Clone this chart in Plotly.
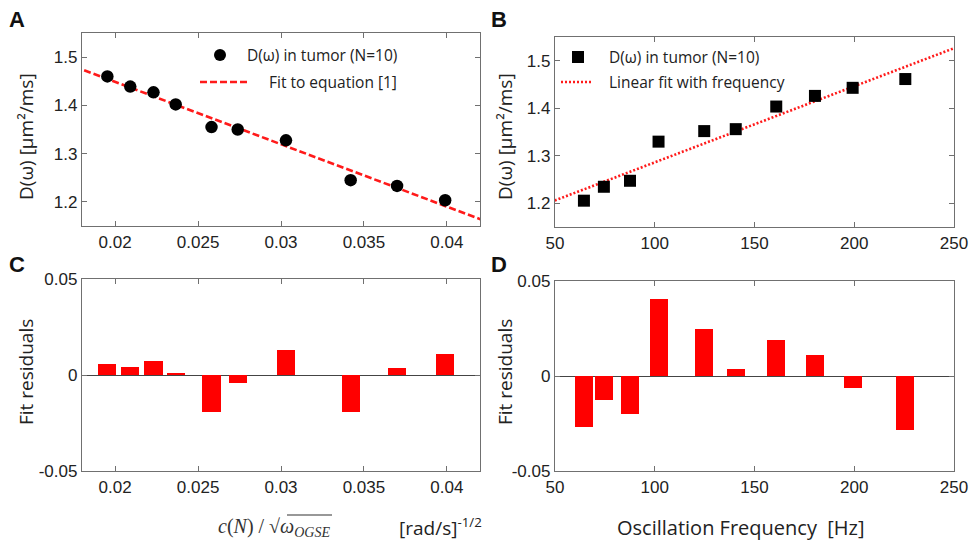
import plotly.graph_objects as go

# ---------------- data ----------------
# Panel A: D(omega) vs c(N)/sqrt(omega_OGSE)
a_x = [0.01953, 0.02091, 0.02231, 0.02365, 0.02581, 0.02739, 0.0303, 0.0342, 0.0370, 0.0399]
a_d = [1.460, 1.439, 1.427, 1.402, 1.355, 1.350, 1.3275, 1.245, 1.233, 1.2033]
fitA_intercept = 1.707
fitA_slope = -12.92
fitA_xrange = [0.017, 0.043]

# Panel B: D(omega) vs oscillation frequency
b_f = [64.5, 74.5, 87.6, 101.9, 124.8, 140.6, 160.9, 180.3, 199.2, 225.6]
b_d = [1.2054, 1.2347, 1.2473, 1.3297, 1.3519, 1.356, 1.4036, 1.426, 1.443, 1.4615]
fitB_intercept = 1.1259
fitB_slope = 0.001602
fitB_xrange = [48, 252]

# Panel C: residuals of fit to equation [1]
c_res = [0.0056, 0.0043, 0.0071, 0.001, -0.0194, -0.004, 0.0128, -0.0194, 0.0035, 0.0108]
# Panel D: residuals of linear fit with frequency
d_res = [-0.0266, -0.0126, -0.020, 0.0404, 0.0246, 0.0035, 0.0189, 0.0109, -0.0061, -0.0286]

xA_ticks = [0.02, 0.025, 0.03, 0.035, 0.04]
xA_labels = ["0.02", "0.025", "0.03", "0.035", "0.04"]
yD_ticks = [1.2, 1.3, 1.4, 1.5]
yD_labels = ["1.2", "1.3", "1.4", "1.5"]
xB_ticks = [50, 100, 150, 200, 250]
yR_ticks = [-0.05, 0, 0.05]
yR_labels = ["-0.05", "0", "0.05"]

# ---------------- layout helpers ----------------
W, H = 972, 546
def px(x):
    return x / W
def py(y):
    return 1 - y / H

TICKFONT = dict(family="Liberation Sans, Arial", size=17, color="#222")
TXTFONT = "Open Sans, Noto Sans, sans-serif"
AXCOL = "#707070"

def fitline(intercept, slope, xr):
    return [intercept + slope * x for x in xr]

fig = go.Figure()

# A
fig.add_trace(go.Scatter(x=fitA_xrange, y=fitline(fitA_intercept, fitA_slope, fitA_xrange),
                         mode="lines", line=dict(color="#ff1a1a", width=2.6, dash="7px,3px"),
                         xaxis="x", yaxis="y", showlegend=False, hoverinfo="skip"))
fig.add_trace(go.Scatter(x=a_x, y=a_d, mode="markers",
                         marker=dict(symbol="circle", size=12.5, color="black"),
                         xaxis="x", yaxis="y", showlegend=False, cliponaxis=False))
# B
fig.add_trace(go.Scatter(x=fitB_xrange, y=fitline(fitB_intercept, fitB_slope, fitB_xrange),
                         mode="lines", line=dict(color="#ff1a1a", width=2.6, dash="2px,2px"),
                         xaxis="x2", yaxis="y2", showlegend=False, hoverinfo="skip"))
fig.add_trace(go.Scatter(x=b_f, y=b_d, mode="markers",
                         marker=dict(symbol="square", size=12, color="black"),
                         xaxis="x2", yaxis="y2", showlegend=False, cliponaxis=False))
# C
fig.add_trace(go.Bar(x=a_x, y=c_res, width=0.0011, marker=dict(color="#ff0000", line=dict(width=0)),
                     xaxis="x3", yaxis="y3", showlegend=False))
# D
fig.add_trace(go.Bar(x=b_f, y=d_res, width=9, marker=dict(color="#ff0000", line=dict(width=0)),
                     xaxis="x4", yaxis="y4", showlegend=False))

def axis(domain, rng, tickvals, ticktext=None, anchor=None, zeroline=False):
    d = dict(domain=domain, range=rng, tickvals=tickvals, showline=True, linecolor=AXCOL,
             linewidth=1.3, mirror="ticks", ticks="inside", ticklen=5, tickcolor=AXCOL,
             tickwidth=1.2, showgrid=False, zeroline=zeroline, zerolinecolor="#444",
             zerolinewidth=1.3, tickfont=TICKFONT, anchor=anchor, fixedrange=True,
             automargin=False)
    if ticktext is not None:
        d["ticktext"] = ticktext
    return d

xA_dom = [px(82), px(480)]
xB_dom = [px(555), px(954)]
yA_dom = [py(226), py(33)]
yB_dom = [py(227), py(37)]
yC_dom = [py(471), py(279)]
yD_dom = [py(471), py(281)]

fig.update_layout(
    width=W, height=H, margin=dict(l=0, r=0, t=0, b=0, autoexpand=False),
    paper_bgcolor="white", plot_bgcolor="white", bargap=0,
    xaxis=axis(xA_dom, [0.018, 0.042], xA_ticks, xA_labels, anchor="y"),
    yaxis=axis(yA_dom, [1.15, 1.55], yD_ticks, yD_labels, anchor="x"),
    xaxis2=axis(xB_dom, [50, 250], xB_ticks, anchor="y2"),
    yaxis2=axis(yB_dom, [1.15, 1.55], yD_ticks, yD_labels, anchor="x2"),
    xaxis3=axis(xA_dom, [0.018, 0.042], xA_ticks, xA_labels, anchor="y3"),
    yaxis3=axis(yC_dom, [-0.05, 0.05], yR_ticks, yR_labels, anchor="x3", zeroline=True),
    xaxis4=axis(xB_dom, [50, 250], xB_ticks, anchor="y4"),
    yaxis4=axis(yD_dom, [-0.05, 0.05], yR_ticks, yR_labels, anchor="x4", zeroline=True),
)

ann = []
def text(x, y, s, size, family=TXTFONT, xanchor="center", yanchor="middle", angle=0, color="#222"):
    ann.append(dict(x=px(x), y=py(y), xref="paper", yref="paper", text=s, showarrow=False,
                    xanchor=xanchor, yanchor=yanchor, textangle=angle,
                    font=dict(family=family, size=size, color=color)))

# panel letters
for lab, x, y in [("A", 17, 20), ("B", 499, 20), ("C", 17, 264), ("D", 499, 264)]:
    text(x, y, "<b>%s</b>" % lab, 22, family="Liberation Sans, Arial", color="#111")

# y-axis titles
text(26, 137, "D(ω) [μm²/ms]", 19, angle=-90)
text(505, 137, "D(ω) [μm²/ms]", 19, angle=-90)
text(26, 372, "Fit residuals", 19, angle=-90)
text(505, 372, "Fit residuals", 19, angle=-90)

# x-axis titles
text(274, 527, "<i>c</i>(<i>N</i>) / √<i>ω</i><sub><i>OGSE</i></sub>", 20,
     family="Liberation Serif, Times New Roman, serif", color="#333")
text(397, 527, "[rad/s]<sup>-1/2</sup>", 19, xanchor="left")
text(741, 527, "Oscillation Frequency  [Hz]", 20)

# legends
text(399, 55, "D(ω) in tumor (N=10)", 15.5, xanchor="right")
text(399, 82, "Fit to equation [1]", 15.5, xanchor="right")
text(607, 57, "D(ω) in tumor (N=10)", 15.5, xanchor="left")
text(607, 82, "Linear fit with frequency", 15.5, xanchor="left")

fig.update_layout(annotations=ann)

shapes = [
    # legend A symbols
    dict(type="circle", xref="paper", yref="paper", xsizemode="pixel", ysizemode="pixel",
         xanchor=px(220), yanchor=py(55), x0=-6, x1=6, y0=-6, y1=6,
         fillcolor="black", line=dict(width=0)),
    dict(type="line", xref="paper", yref="paper", x0=px(200), x1=px(248), y0=py(82), y1=py(82),
         line=dict(color="#ff1a1a", width=2.6, dash="7px,3px")),
    # legend B symbols
    dict(type="rect", xref="paper", yref="paper", xsizemode="pixel", ysizemode="pixel",
         xanchor=px(578), yanchor=py(57), x0=-6, x1=6, y0=-6, y1=6,
         fillcolor="black", line=dict(width=0)),
    dict(type="line", xref="paper", yref="paper", x0=px(561), x1=px(593), y0=py(82), y1=py(82),
         line=dict(color="#ff1a1a", width=2.6, dash="2px,2px")),
    # overbar of the square root in the C axis title
    dict(type="line", xref="paper", yref="paper", x0=px(287), x1=px(332), y0=py(515), y1=py(515),
         line=dict(color="#333", width=1.2)),
]
fig.update_layout(shapes=shapes)

fig.write_html("out.html", config={"displayModeBar": False},
               post_script="document.body.style.margin='0px';document.body.style.overflow='hidden';")
